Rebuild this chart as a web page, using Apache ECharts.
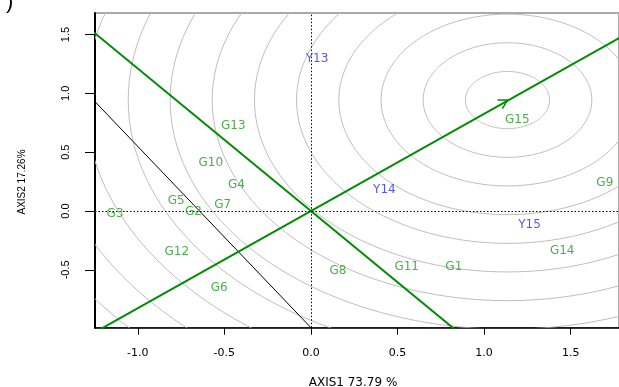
<!DOCTYPE html>
<html><head><meta charset="utf-8">
<script src="https://cdn.jsdelivr.net/npm/echarts@6/dist/echarts.min.js"></script>
<style>html,body{margin:0;padding:0;background:#fff}#c{width:619px;height:387px}</style>
</head><body><div id="c"></div>
<script>
// axis ticks
const xTicks = [-1.0, -0.5, 0.0, 0.5, 1.0, 1.5];
const yTicks = [-0.5, 0.0, 0.5, 1.0, 1.5];
const xMin = -1.247, xMax = 1.779, yMin = -0.992, yMax = 1.683;

// genotype labels (green)
const genoNames = ['G1','G2','G3','G4','G5','G6','G7','G8','G9','G10','G11','G12','G13','G14','G15'];
const genoX = [0.825,-0.678,-1.131,-0.430,-0.778,-0.530,-0.510,0.156,1.697,-0.578,0.553,-0.775,-0.448,1.451,1.192];
const genoY = [-0.473,-0.006,-0.023,0.221,0.088,-0.652,0.054,-0.507,0.235,0.405,-0.473,-0.351,0.725,-0.337,0.773];

// environment labels (blue)
const envNames = ['Y13','Y14','Y15'];
const envX = [0.035,0.424,1.262];
const envY = [1.289,0.178,-0.119];

// concentric circles around the ideal point
const circleCenter = [1.135, 0.943];
const circleRadii = [0.243,0.487,0.730,0.974,1.218,1.461,1.705,1.948,2.190,2.438,2.680,2.920,3.165,3.410];

// lines
const atcLine = [[-1.30,-1.074],[1.80,1.487]];
const perpLine = [[-1.30,1.574],[0.90,-1.090]];
const blackLine = [[-1.30,1.011],[0.03,-1.038]];

const chart = echarts.init(document.getElementById('c'), null, {renderer:'canvas'});
const fmt = v => v.toFixed(1);
const option = {
  animation: false,
  grid: {left:95, top:13, width:525, height:314.7, show:true, borderColor:'#555', borderWidth:1},
  xAxis: {
    type:'value', min:xMin, max:xMax, splitLine:{show:false},
    axisLine:{onZero:false, lineStyle:{color:'#000', width:1.5}},
    axisTick:{customValues:xTicks, length:7, lineStyle:{color:'#000', width:1}},
    axisLabel:{customValues:xTicks, formatter:fmt, margin:20, fontFamily:'DejaVu Sans', fontSize:11, color:'#000'}
  },
  yAxis: {
    type:'value', min:yMin, max:yMax, splitLine:{show:false},
    axisLine:{onZero:false, lineStyle:{color:'#000', width:2}},
    axisTick:{customValues:yTicks, length:10, lineStyle:{color:'#000', width:1}},
    axisLabel:{customValues:yTicks, formatter:fmt, rotate:90, margin:24, fontFamily:'Liberation Sans', fontSize:11, color:'#000'}
  },
  graphic: [
    {type:'text', x:353, y:383, style:{text:'AXIS1 73.79 %', font:'12px "DejaVu Sans"', fill:'#000', textAlign:'center', textVerticalAlign:'middle'}},
    {type:'text', x:22, y:182, rotation:Math.PI/2, style:{text:'AXIS2 17.26%', font:'10px "Liberation Sans"', fill:'#000', textAlign:'center', textVerticalAlign:'middle'}},
    {type:'text', x:6, y:-9, style:{text:')', font:'22px "Liberation Sans"', fill:'#000', textAlign:'left', textVerticalAlign:'top'}}
  ],
  series: [
    {
      type:'custom', clip:true, silent:true, z:1,
      data: circleRadii.map(r => [circleCenter[0], circleCenter[1], r]),
      encode:{x:0, y:1},
      renderItem: (params, api) => {
        const cx = api.value(0), cy = api.value(1), r = api.value(2);
        const pts = [];
        for (let i = 0; i <= 360; i += 2) {
          const t = i * Math.PI / 180;
          pts.push(api.coord([cx + r*Math.cos(t), cy + r*Math.sin(t)]));
        }
        return {type:'polyline', shape:{points:pts}, style:{stroke:'#bebebe', lineWidth:1, fill:null}};
      }
    },
    {
      type:'line', data:blackLine, showSymbol:false, silent:true, z:2,
      lineStyle:{color:'#000', width:1},
      markLine:{silent:true, symbol:['none','none'], label:{show:false},
        lineStyle:{color:'#000', type:[1.5,2], width:1},
        data:[{xAxis:0},{yAxis:0}]}
    },
    {type:'line', data:atcLine, showSymbol:false, silent:true, z:3, lineStyle:{color:'#008c00', width:2}},
    {type:'line', data:perpLine, showSymbol:false, silent:true, z:3, lineStyle:{color:'#008c00', width:2}},
    {
      type:'custom', silent:true, z:4,
      data:[circleCenter],
      encode:{x:0, y:1},
      renderItem: (params, api) => {
        const p = api.coord([api.value(0), api.value(1)]);
        const o = api.coord([0, 0]);
        const ang = Math.atan2(p[1]-o[1], p[0]-o[0]);
        const L = 10;
        const a1 = ang + Math.PI - Math.PI/6, a2 = ang + Math.PI + Math.PI/6;
        return {type:'polyline', shape:{points:[[p[0]+L*Math.cos(a1), p[1]+L*Math.sin(a1)], p, [p[0]+L*Math.cos(a2), p[1]+L*Math.sin(a2)]]},
          style:{stroke:'#008c00', lineWidth:1.5, fill:null}};
      }
    },
    {
      type:'scatter', z:10, symbolSize:1, silent:true,
      itemStyle:{color:'rgba(0,0,0,0)'},
      data: genoNames.map((n,i) => ({name:n, value:[genoX[i], genoY[i]]})),
      label:{show:true, position:'inside', formatter:'{b}', color:'#1f9a1f', fontFamily:'DejaVu Sans', fontSize:12}
    },
    {
      type:'scatter', z:10, symbolSize:1, silent:true,
      itemStyle:{color:'rgba(0,0,0,0)'},
      data: envNames.map((n,i) => ({name:n, value:[envX[i], envY[i]]})),
      label:{show:true, position:'inside', formatter:'{b}', color:'#2a2aff', fontFamily:'DejaVu Sans', fontSize:12}
    }
  ]
};
chart.setOption(option);
</script>
</body></html>
